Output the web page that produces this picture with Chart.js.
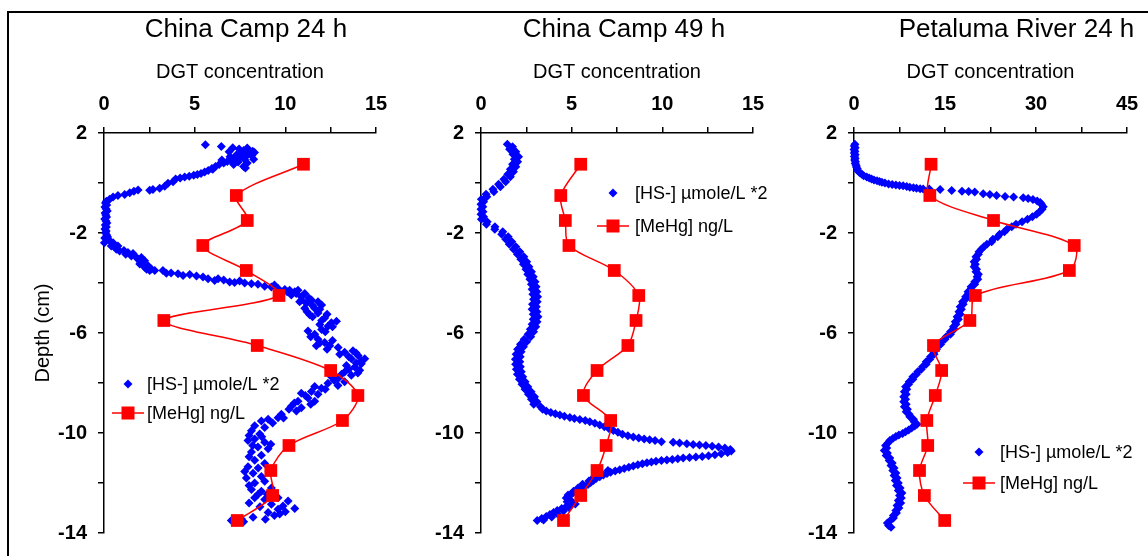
<!DOCTYPE html>
<html>
<head>
<meta charset="utf-8">
<script src="https://cdn.jsdelivr.net/npm/chart.js@4"></script>
<style>
  html, body { margin: 0; padding: 0; background: #fff; overflow: hidden; }
  #page { position: relative; width: 1148px; height: 556px; overflow: hidden; background: #fff; }
  #frame { position: absolute; left: 7px; top: 11px; width: 1300px; height: 700px;
           border-top: 2px solid #000; border-left: 2px solid #000; }
  canvas { position: absolute; top: 0; }
</style>
</head>
<body>
<div id="page">
  <div id="frame"></div>
  <canvas id="panel1" width="472" height="556" style="left:10px"></canvas>
  <canvas id="panel2" width="408" height="556" style="left:420px"></canvas>
  <canvas id="panel3" width="426" height="556" style="left:804px"></canvas>
</div>
<script>
// ---- Series labels and tick settings ----
const seriesLabels = ['[HS-] \u00B5mole/L *2', '[MeHg] ng/L'];
const panelTitles = ['China Camp 24 h', 'China Camp 49 h', 'Petaluma River 24 h'];
const xAxisTitle = 'DGT concentration';
const yAxisTitle = 'Depth (cm)';
const depthMin = -14, depthMax = 2;
const xMaxima = [15, 15, 45];
const xSteps = [2.5, 2.5, 7.5];

// ---- MeHg profiles (ng/L) at sampling depths (cm) ----
const meHgDepth = [0.75, -0.5, -1.5, -2.5, -3.5, -4.5, -5.5, -6.5, -7.5, -8.5, -9.5, -10.5, -11.5, -12.5, -13.5];
const meHgChinaCamp24 = [11.0, 7.3, 7.9, 5.45, 7.85, 9.65, 3.3, 8.45, 12.5, 14.0, 13.15, 10.2, 9.2, 9.3, 7.35];
const meHgChinaCamp49 = [5.5, 4.4, 4.65, 4.85, 7.35, 8.7, 8.55, 8.1, 6.4, 5.65, 7.15, 6.9, 6.4, 5.5, 4.55];
const meHgPetaluma24 = [12.7, 12.5, 23.0, 36.3, 35.5, 20.0, 19.1, 13.1, 14.45, 13.4, 12.0, 12.15, 10.8, 11.6, 14.95];

// ---- HS- profiles: [concentration, depth] pairs ----
const hsChinaCamp24 = [
  [5.59,1.53],[6.47,1.46],[7.10,1.41],[7.45,1.36],[7.70,1.30],[7.95,1.33],[8.20,1.27],[8.30,1.22],[8.05,1.18],[7.55,1.20],
  [7.30,1.12],[7.85,1.08],[8.15,1.10],[7.50,1.02],[7.20,0.98],[7.75,0.95],[7.00,0.90],[6.80,0.86],[7.40,0.84],[7.90,0.80],
  [6.60,0.80],[7.15,0.74],[6.35,0.74],[7.70,0.66],[6.15,0.66],[7.80,0.60],[5.95,0.58],[5.75,0.50],[5.55,0.44],
  [6.90,1.25],[7.90,1.40],[6.95,1.05],[8.25,0.95],[6.50,0.92],[6.00,0.55],
  [5.35,0.38],[5.15,0.34],[4.95,0.31],[4.70,0.27],[4.45,0.24],[4.20,0.20],[3.95,0.16],[3.81,0.05],[3.53,-0.01],[3.35,-0.13],
  [3.07,-0.21],[2.70,-0.26],[2.52,-0.29],[1.88,-0.28],[1.65,-0.33],[1.42,-0.39],[1.14,-0.46],[0.77,-0.50],[0.50,-0.56],
  [0.31,-0.65],[0.13,-0.73],
  [0.08,-0.80],[0.15,-0.88],[0.05,-0.96],[0.12,-1.04],[0.18,-1.12],[0.06,-1.20],[0.10,-1.28],[0.14,-1.36],[0.04,-1.44],
  [0.11,-1.52],[0.16,-1.60],[0.07,-1.68],[0.13,-1.76],[0.05,-1.84],[0.12,-1.92],[0.09,-2.00],[0.15,-2.08],[0.20,-2.16],
  [0.04,-2.20],[0.02,-2.39],[0.22,-2.26],[0.50,-2.39],[0.40,-2.52],[0.77,-2.52],[0.86,-2.72],[0.68,-2.65],[1.32,-2.78],
  [1.51,-2.92],[1.60,-2.82],[1.88,-3.05],[2.06,-2.98],[2.24,-3.11],[1.97,-3.24],[2.43,-3.31],[2.61,-3.44],[2.24,-3.37],
  [0.30,-2.30],[1.10,-2.70],[1.20,-2.85],[1.75,-2.95],[2.00,-3.15],[2.35,-3.45],[2.80,-3.50],[3.70,-3.60],[5.10,-3.72],
  [6.60,-3.88],[7.20,-3.98],[9.40,-4.08],
  [2.52,-3.50],[3.25,-3.50],[3.44,-3.61],[4.08,-3.63],[4.36,-3.70],[4.73,-3.66],[5.46,-3.76],[5.74,-3.83],[6.10,-3.90],
  [6.29,-3.83],[6.93,-3.96],[7.48,-3.92],[7.76,-4.00],[8.13,-4.03],[8.49,-4.05],[8.86,-4.13],[9.23,-4.16],[9.60,-4.22],
  [9.97,-4.26],[10.24,-4.29],[10.52,-4.35],[10.70,-4.29],[10.33,-4.48],[10.88,-4.55],[11.07,-4.42],[10.79,-4.75],[11.16,-4.81],
  [11.44,-4.68],[11.80,-4.75],[11.07,-5.01],[11.62,-5.01],[12.00,-4.88],[11.34,-5.27],[11.80,-5.20],[12.17,-5.40],[12.54,-5.59],
  [12.82,-5.53],[12.35,-5.73],[11.90,-5.66],[11.25,-5.92],[11.62,-6.05],[12.00,-5.86],[11.80,-6.25],[12.17,-6.38],[12.45,-6.51],
  [11.71,-6.51],[12.91,-6.58],[13.27,-6.77],[13.73,-6.71],[14.01,-6.90],[14.38,-7.03],[13.64,-7.03],[14.19,-7.23],[13.83,-7.36],
  [13.37,-7.30],[14.10,-7.49],
  [10.10,-4.35],[10.60,-4.42],[10.90,-4.68],[11.30,-4.60],[11.50,-4.90],[11.90,-5.05],[11.20,-5.15],[11.50,-5.35],[12.30,-5.25],
  [12.00,-5.50],[12.60,-5.75],[12.20,-5.95],[11.40,-6.15],[11.90,-6.40],[12.60,-6.30],[12.30,-6.65],[13.00,-6.85],[13.50,-6.95],
  [13.90,-6.80],[14.20,-7.10],[13.90,-7.20],[13.50,-7.45],[14.00,-7.60],[13.10,-7.65],[12.70,-7.90],[12.90,-8.10],[12.20,-8.25],
  [11.80,-8.45],[11.10,-8.50],[11.40,-8.85],[10.50,-8.80],[10.20,-9.05],[9.90,-9.40],[9.30,-9.60],
  [13.27,-7.56],[13.64,-7.69],[12.91,-7.82],[12.54,-7.75],[13.27,-7.95],[12.35,-8.01],[11.99,-8.21],[11.62,-8.14],[11.44,-8.34],
  [10.88,-8.41],[11.25,-8.60],[10.70,-8.73],[11.62,-8.73],[10.88,-8.99],[10.33,-8.93],[10.61,-9.12],[9.78,-9.25],[9.60,-9.39],
  [9.05,-9.45],[8.68,-9.52],[8.31,-9.71],[8.86,-9.78],
  [8.13,-9.91],[8.59,-10.04],[7.94,-10.30],[8.31,-10.24],[8.86,-10.37],[8.49,-10.56],[9.05,-10.63],[8.13,-10.76],[8.68,-10.89],
  [8.31,-11.09],[8.86,-11.22],[7.94,-11.35],[7.76,-11.54],[8.22,-11.61],[8.68,-11.74],[7.85,-11.80],[8.31,-12.00],[8.86,-11.93],
  [8.13,-12.26],[8.68,-12.33],[9.23,-12.20],[8.31,-12.59],[8.86,-12.66],[9.60,-12.59],[9.23,-12.85],[9.87,-12.92],[10.52,-13.02],
  [10.15,-12.72],[9.60,-13.05],[9.05,-13.18],[8.22,-13.37],[7.58,-13.44],[7.02,-13.50],[9.69,-13.24],
  [8.00,-10.10],[8.70,-10.15],[9.20,-10.45],[8.20,-10.50],[8.00,-10.95],[8.50,-11.40],[9.10,-11.55],[8.00,-12.10],[8.50,-12.45],
  [9.00,-12.45],[8.00,-12.80],[8.60,-12.95],[9.40,-13.30],[10.00,-13.15],[8.90,-13.45],[7.70,-13.55]
];

const hsChinaCamp49 = [
  [1.45,1.55],[1.74,1.45],[1.58,1.35],[1.92,1.25],[1.76,1.15],[2.07,1.05],[1.84,0.95],[2.02,0.85],[1.74,0.75],[1.92,0.65],
  [1.62,0.55],[1.79,0.45],[1.48,0.35],[1.62,0.25],[1.26,0.15],[1.36,0.05],[0.97,-0.05],[1.07,-0.15],[0.66,-0.25],[0.71,-0.35],
  [0.28,-0.45],[0.32,-0.55],[0.02,-0.65],[0.14,-0.75],[0.00,-0.85],[0.10,-0.95],[0.00,-1.05],[0.11,-1.15],[0.00,-1.25],[0.14,-1.35],
  [0.02,-1.45],[0.34,-1.55],[0.30,-1.65],[0.77,-1.75],[0.76,-1.85],[1.20,-1.95],[1.14,-2.05],[1.50,-2.15],[1.37,-2.25],[1.70,-2.35],
  [1.56,-2.45],[1.92,-2.55],[1.80,-2.65],[2.14,-2.75],[2.01,-2.85],[2.36,-2.95],[2.20,-3.05],[2.52,-3.15],[2.34,-3.25],[2.64,-3.35],
  [2.48,-3.45],[2.78,-3.55],[2.58,-3.65],[2.88,-3.75],[2.70,-3.85],[2.98,-3.95],[2.78,-4.05],[3.04,-4.15],[2.82,-4.25],[3.08,-4.35],
  [2.86,-4.45],[3.12,-4.55],[2.90,-4.65],[3.10,-4.75],[2.84,-4.85],[3.05,-4.95],[2.82,-5.05],[3.09,-5.15],[2.88,-5.25],[3.14,-5.35],
  [2.88,-5.45],[3.09,-5.55],[2.82,-5.65],[3.02,-5.75],[2.72,-5.85],[2.90,-5.95],[2.60,-6.05],[2.74,-6.15],[2.38,-6.25],[2.52,-6.35],
  [2.18,-6.45],[2.34,-6.55],[2.02,-6.65],[2.21,-6.75],[1.94,-6.85],[2.16,-6.95],[1.90,-7.05],[2.14,-7.15],[1.91,-7.25],[2.17,-7.35],
  [1.95,-7.45],[2.22,-7.55],[2.01,-7.65],[2.30,-7.75],[2.12,-7.85],[2.43,-7.95],[2.26,-8.05],[2.58,-8.15],[2.43,-8.25],[2.76,-8.35],
  [2.62,-8.45],[2.95,-8.55],[2.78,-8.65],[3.08,-8.75],[2.91,-8.85],[3.28,-8.95],[3.40,-9.05],
  [3.60,-9.12],[3.85,-9.18],[4.10,-9.23],[4.35,-9.28],[4.60,-9.33],[4.90,-9.38],[5.15,-9.42],[5.45,-9.46],[5.75,-9.50],[6.00,-9.55],
  [6.28,-9.61],[6.55,-9.68],[6.80,-9.75],[7.05,-9.82],[7.30,-9.90],[7.55,-9.97],[7.80,-10.05],[8.10,-10.11],[8.40,-10.16],[8.70,-10.20],
  [9.00,-10.24],[9.30,-10.27],[9.60,-10.30],[9.95,-10.35],[10.60,-10.37],[10.95,-10.40],[11.35,-10.43],[11.70,-10.46],[12.05,-10.48],
  [12.40,-10.50],[12.75,-10.53],[13.10,-10.56],[13.45,-10.60],[13.75,-10.66],[13.80,-10.72],[13.60,-10.78],[13.25,-10.83],[12.90,-10.87],
  [12.55,-10.91],[12.20,-10.94],[11.85,-10.96],[11.50,-10.98],[11.15,-11.00],[10.85,-11.03],[10.55,-11.06],[10.25,-11.08],[9.95,-11.10],
  [9.65,-11.13],[9.40,-11.16],[9.15,-11.19],[8.90,-11.23],[8.65,-11.27],[8.40,-11.32],[8.15,-11.37],[7.90,-11.42],[7.65,-11.47],
  [7.40,-11.52],[7.15,-11.57],[6.95,-11.62],[6.75,-11.68],[6.55,-11.75],[6.35,-11.82],[6.20,-11.90],[6.05,-11.98],[5.90,-12.06],
  [5.70,-12.14],[5.50,-12.22],[5.30,-12.30],[5.10,-12.38],[4.95,-12.46],[4.85,-12.54],[4.80,-12.62],[4.95,-12.70],[5.05,-12.78],
  [4.95,-12.86],[4.70,-12.94],[4.45,-13.02],[4.20,-13.10],[4.00,-13.18],[3.80,-13.26],[3.60,-13.34],[3.35,-13.42],[3.10,-13.50],
  [7.00,-11.50],[6.60,-11.66],[6.20,-11.78],[5.95,-11.92],[5.60,-12.05],[5.35,-12.20],[5.10,-12.33],[4.80,-12.48],[4.70,-12.60],
  [4.75,-12.75],[5.20,-12.84],[4.85,-12.98],[4.55,-13.12],[4.20,-13.22],[3.90,-13.36],[3.45,-13.48]
];

const hsPetaluma24 = [
  [0.15,1.55],[0.05,1.48],[0.20,1.41],[0.00,1.34],[0.15,1.27],[0.05,1.20],[0.20,1.13],[0.05,1.06],[0.20,0.99],[0.10,0.92],
  [0.25,0.85],[0.20,0.78],[0.35,0.71],[0.40,0.64],[0.55,0.57],[0.60,0.50],[0.80,0.45],
  [1.00,0.40],[1.30,0.35],[1.60,0.29],[2.10,0.24],[2.50,0.20],[2.90,0.16],[3.30,0.12],[3.80,0.09],[4.20,0.06],[4.60,0.03],
  [5.10,0.00],[5.70,-0.04],[6.30,-0.06],[6.90,-0.08],[7.50,-0.10],[8.10,-0.11],[8.70,-0.14],[9.20,-0.17],[9.80,-0.19],
  [10.30,-0.21],[10.90,-0.23],[11.40,-0.24],[12.40,-0.24],[14.20,-0.26],[16.10,-0.30],[17.80,-0.33],[18.90,-0.34],[19.90,-0.36],
  [21.30,-0.43],[22.40,-0.46],[23.50,-0.50],[24.90,-0.54],[26.30,-0.56],[27.90,-0.59],[28.70,-0.62],[29.50,-0.66],[30.20,-0.72],
  [30.70,-0.78],
  [30.9,-0.85],[31.2,-0.95],[31.0,-1.05],[30.6,-1.15],[30.1,-1.25],[29.4,-1.35],[28.6,-1.45],[27.7,-1.55],[26.7,-1.65],[26.0,-1.75],
  [25.2,-1.85],[24.8,-1.95],[24.0,-2.05],[23.7,-2.15],[22.9,-2.25],[22.7,-2.35],[21.9,-2.45],[21.4,-2.55],[21.0,-2.65],[20.6,-2.75],
  [20.5,-2.85],[20.1,-2.95],[20.2,-3.05],[19.8,-3.15],[20.0,-3.25],[19.8,-3.35],[20.2,-3.45],[20.1,-3.55],[20.5,-3.65],[20.3,-3.75],
  [20.4,-3.85],[19.9,-3.95],[19.9,-4.05],[19.3,-4.15],[19.3,-4.25],[18.8,-4.35],[18.8,-4.45],[18.4,-4.55],[18.4,-4.65],[17.9,-4.75],
  [18.0,-4.85],[17.5,-4.95],[17.7,-5.05],[17.3,-5.15],[17.5,-5.25],[17.0,-5.35],[17.2,-5.45],[16.7,-5.55],[16.8,-5.65],[16.4,-5.75],
  [16.5,-5.85],[15.9,-5.95],[15.9,-6.05],[15.2,-6.15],[15.0,-6.25],[14.4,-6.35],[14.3,-6.45],[13.6,-6.55],[13.6,-6.65],[13.1,-6.75],
  [13.2,-6.85],[12.6,-6.95],[12.5,-7.05],[11.9,-7.15],[11.9,-7.25],[11.3,-7.35],[11.1,-7.45],[10.5,-7.55],[10.3,-7.65],[9.7,-7.75],
  [9.7,-7.85],[9.1,-7.95],[9.0,-8.05],[8.5,-8.15],[8.7,-8.25],[8.3,-8.35],[8.6,-8.45],[8.2,-8.55],[8.5,-8.65],[8.2,-8.75],
  [8.6,-8.85],[8.3,-8.95],[8.8,-9.05],[8.6,-9.15],[9.1,-9.25],[9.2,-9.35],[9.8,-9.45],[9.9,-9.55],[10.4,-9.65],[10.0,-9.72],
  [9.5,-9.80],[9.0,-9.88],[8.5,-9.95],[8.0,-10.02],[7.4,-10.08],[6.9,-10.14],[6.4,-10.22],[5.9,-10.30],[5.6,-10.40],[5.2,-10.50],
  [5.4,-10.60],[5.0,-10.70],[5.5,-10.80],[5.3,-10.90],[5.9,-11.00],[5.8,-11.10],[6.3,-11.20],[6.1,-11.30],[6.6,-11.40],[6.4,-11.50],
  [6.9,-11.60],[6.6,-11.70],[7.1,-11.80],[6.8,-11.90],[7.3,-12.00],[7.0,-12.10],[7.6,-12.20],[7.3,-12.30],[7.9,-12.40],[7.5,-12.50],
  [7.8,-12.60],[7.3,-12.70],[7.7,-12.80],[7.1,-12.90],[7.4,-13.00],[6.9,-13.10],[7.0,-13.20],[6.5,-13.30],[6.5,-13.40],[6.0,-13.50],
  [5.5,-13.60],[5.7,-13.70],[6.1,-13.77]
];

const BLUE = '#0000FF';
const RED = '#FF0000';
const FONT = '"Liberation Sans", Arial, Helvetica, sans-serif';

// Panel heading, centred a little to the right of the plot area
const panelHeading = {
  id: 'panelHeading',
  afterDraw(chart, args, opts) {
    const ctx = chart.ctx;
    const area = chart.chartArea;
    ctx.save();
    ctx.fillStyle = '#000';
    ctx.font = '26px ' + FONT;
    ctx.textAlign = 'center';
    ctx.textBaseline = 'middle';
    ctx.fillText(opts.text, (area.left + area.right) / 2 + opts.dx, opts.y);
    ctx.restore();
  }
};

// Legend drawn inside the plot area
const insetLegend = {
  id: 'insetLegend',
  afterDatasetsDraw(chart, args, opts) {
    const ctx = chart.ctx;
    const area = chart.chartArea;
    const x = area.left + opts.x;
    const y1 = area.top + opts.y;
    const y2 = y1 + opts.gap;
    ctx.save();
    const r = 4.5;
    ctx.fillStyle = BLUE;
    ctx.beginPath();
    ctx.moveTo(x, y1 - r); ctx.lineTo(x + r, y1); ctx.lineTo(x, y1 + r); ctx.lineTo(x - r, y1);
    ctx.closePath(); ctx.fill();
    ctx.strokeStyle = RED; ctx.lineWidth = 1.5;
    ctx.beginPath(); ctx.moveTo(x - 16, y2); ctx.lineTo(x + 16, y2); ctx.stroke();
    ctx.fillStyle = RED;
    ctx.fillRect(x - 6.5, y2 - 6.5, 13, 13);
    ctx.fillStyle = '#000';
    ctx.font = '18px ' + FONT;
    ctx.textBaseline = 'middle';
    ctx.textAlign = 'left';
    ctx.fillText(seriesLabels[0], x + opts.textOffset, y1 + 1);
    ctx.fillText(seriesLabels[1], x + opts.textOffset, y2 + 1);
    ctx.restore();
  }
};

function buildPanel(id, idx, hsPairs, meHgConc, layoutPad, yWidth, showYTitle, headingDx, legendPos) {
  const xMax = xMaxima[idx];
  const step = xSteps[idx];
  const hsData = hsPairs.map(p => ({ x: p[0], y: p[1] }));
  const meData = meHgDepth.map((d, i) => ({ x: meHgConc[i], y: d }));
  return new Chart(document.getElementById(id), {
    type: 'scatter',
    data: {
      datasets: [
        {
          label: seriesLabels[0], data: hsData, order: 1,
          pointStyle: 'rectRot', pointRadius: 4.5, pointBorderWidth: 0,
          backgroundColor: BLUE, borderColor: BLUE, showLine: false, clip: false
        },
        {
          label: seriesLabels[1], data: meData, order: 0,
          showLine: true, tension: 0.3, borderColor: RED, borderWidth: 1.5,
          pointStyle: 'rect', pointRadius: 9, pointBorderWidth: 0,
          backgroundColor: RED, pointBackgroundColor: RED, clip: false
        }
      ]
    },
    options: {
      responsive: false, animation: false, devicePixelRatio: 1,
      events: [],
      layout: { padding: layoutPad },
      plugins: {
        legend: { display: false },
        tooltip: { enabled: false },
        title: { display: false },
        panelHeading: { text: panelTitles[idx], dx: headingDx, y: 30 },
        insetLegend: legendPos
      },
      scales: {
        x: {
          type: 'linear', position: 'top', min: 0, max: xMax,
          afterFit: s => { s.height = 73; },
          border: { display: true, color: '#000', width: 1.5 },
          grid: { display: true, drawOnChartArea: false, drawTicks: true, tickLength: 6, color: '#000', lineWidth: 1.5 },
          ticks: {
            stepSize: step, autoSkip: false, maxRotation: 0, padding: 11, color: '#000',
            font: { family: FONT, size: 20, weight: 'bold' },
            callback: v => (Math.abs(v % (step * 2)) < 1e-9 ? String(v) : '')
          },
          title: {
            display: true, text: xAxisTitle, color: '#000',
            font: { family: FONT, size: 20, weight: 'normal' }, padding: 0
          }
        },
        y: {
          type: 'linear', position: 'left', min: depthMin, max: depthMax,
          afterFit: s => { s.width = yWidth; },
          border: { display: true, color: '#000', width: 1.5 },
          grid: { display: true, drawOnChartArea: false, drawTicks: true, tickLength: 6, color: '#000', lineWidth: 1.5 },
          ticks: {
            stepSize: 2, autoSkip: false, padding: 11, color: '#000',
            font: { family: FONT, size: 20, weight: 'bold' },
            callback: v => (Math.abs((v - depthMax) % 4) < 1e-9 ? String(v) : '')
          },
          title: {
            display: showYTitle, text: yAxisTitle, color: '#000',
            font: { family: FONT, size: 20, weight: 'normal' }, padding: 0
          }
        }
      }
    },
    plugins: [panelHeading, insetLegend]
  });
}

buildPanel('panel1', 0, hsChinaCamp24, meHgChinaCamp24,
  { left: 21, right: 106, top: 60, bottom: 15 }, 73, true, 6,
  { x: 24, y: 251, gap: 29, textOffset: 19 });
buildPanel('panel2', 1, hsChinaCamp49, meHgChinaCamp49,
  { left: 11, right: 75, top: 60, bottom: 15 }, 50, false, 7,
  { x: 132, y: 60, gap: 33, textOffset: 22 });
buildPanel('panel3', 2, hsPetaluma24, meHgPetaluma24,
  { left: 0, right: 103, top: 60, bottom: 15 }, 50, false, 26,
  { x: 125, y: 319, gap: 31, textOffset: 21 });
</script>
</body>
</html>
